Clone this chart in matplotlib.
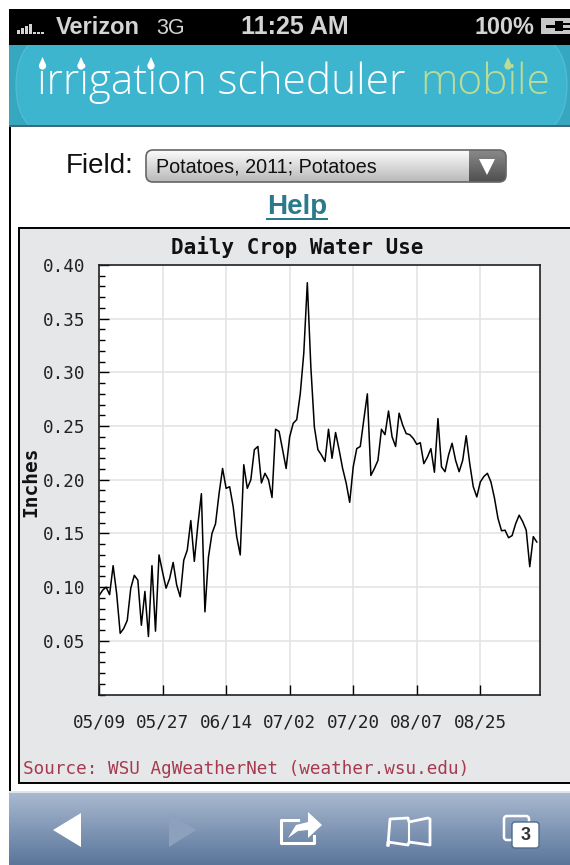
import numpy as np
import matplotlib
matplotlib.use("Agg")
import matplotlib.pyplot as plt
from matplotlib.colors import LinearSegmentedColormap
from matplotlib.patches import Rectangle, FancyBboxPatch, Polygon, Circle
from matplotlib.ticker import MultipleLocator

# Daily crop water use, inches, one value per day from 05/09
water_use = [
    0.092, 0.097, 0.100, 0.093, 0.120, 0.094, 0.057, 0.0615, 0.069, 0.099,
    0.111, 0.1065, 0.0645, 0.096, 0.054, 0.120, 0.059, 0.130, 0.114, 0.099,
    0.108, 0.123, 0.102, 0.091, 0.125, 0.1345, 0.162, 0.124, 0.158, 0.187,
    0.077, 0.128, 0.150, 0.159, 0.187, 0.2105, 0.192, 0.1935, 0.175, 0.147,
    0.130, 0.214, 0.192, 0.200, 0.228, 0.231, 0.197, 0.206, 0.200, 0.1835,
    0.247, 0.245, 0.228, 0.2105, 0.240, 0.2525, 0.256, 0.280, 0.318, 0.3835,
    0.305, 0.249, 0.228, 0.223, 0.217, 0.247, 0.220, 0.244, 0.228, 0.2105,
    0.197, 0.179, 0.212, 0.229, 0.231, 0.256, 0.280, 0.204, 0.2105, 0.218,
    0.247, 0.242, 0.264, 0.240, 0.231, 0.262, 0.251, 0.243, 0.242, 0.2385,
    0.233, 0.2345, 0.215, 0.221, 0.229, 0.207, 0.257, 0.212, 0.2075, 0.223,
    0.234, 0.218, 0.2075, 0.218, 0.241, 0.215, 0.1935, 0.184, 0.198, 0.203,
    0.206, 0.198, 0.183, 0.164, 0.1525, 0.153, 0.146, 0.148, 0.159, 0.167,
    0.161, 0.153, 0.119, 0.147, 0.142,
]
date_labels = ["05/09", "05/27", "06/14", "07/02", "07/20", "08/07", "08/25"]
date_days = [0, 18, 36, 54, 72, 90, 108]
y_labels = ["0.05", "0.10", "0.15", "0.20", "0.25", "0.30", "0.35", "0.40"]
y_values = [0.05, 0.10, 0.15, 0.20, 0.25, 0.30, 0.35, 0.40]

W, H = 570, 865
fig = plt.figure(figsize=(W / 100, H / 100), dpi=100, facecolor="white")

# screen chrome, drawn in pixel coordinates
bg = fig.add_axes([0, 0, 1, 1])
bg.axis("off")

sans = "Liberation Sans"
mono = "DejaVu Sans Mono"
grey = "#d4d4d4"


def rect(x0, y0, x1, y1, color, **kw):
    return bg.add_patch(Rectangle((x0, y0), x1 - x0, y1 - y0, facecolor=color, edgecolor="none", **kw))


def gradient(x0, y0, x1, y1, top, bottom, clip=None, zorder=1):
    cmap = LinearSegmentedColormap.from_list("g", [top, bottom])
    im = bg.imshow(np.linspace(0, 1, 64).reshape(-1, 1), extent=(x0, x1, y1, y0), cmap=cmap,
                   aspect="auto", zorder=zorder)
    if clip is not None:
        im.set_clip_path(clip)


# status bar
rect(9, 9, W, 45, "black")
for bx, bh in zip([17, 21, 25, 29, 33, 37, 41], [4, 6, 8, 10, 2, 2, 2]):
    rect(bx, 34 - bh, bx + 3, 34, grey)
bg.text(56, 27, "Verizon", color=grey, fontsize=17, family=sans, fontweight="bold", va="center")
bg.text(156, 28, "3G", color=grey, fontsize=15.5, family=sans, va="center")
bg.text(241, 27, "11:25 AM", color=grey, fontsize=18, family=sans, fontweight="bold", va="center")
bg.text(474, 27, "100%", color=grey, fontsize=16.8, family=sans, fontweight="bold", va="center")
rect(541, 18, W, 34, "#c8c8c8")
rect(546, 24.5, 555, 28, "black")
rect(555, 21, 563, 31, "black")
rect(563, 22.5, W, 25, "black")
rect(563, 27.5, W, 30, "black")

# banner
band = rect(9, 45, W, 126, "#37a7bf")
oval = FancyBboxPatch((16, 30), 551, 110, boxstyle="round,pad=0,rounding_size=55",
                      facecolor="#3db5cf", edgecolor="#55bed5", lw=0.8, zorder=1)
bg.add_patch(oval)
oval.set_clip_path(band)
rect(9, 124.5, W, 126.5, "#3e6a78", zorder=1.5)
bg.text(37, 83, "irrigation scheduler", color="white", fontsize=30.5, family="Open Sans",
        fontweight="light", va="center", zorder=2)
bg.text(420, 83, "mobile", color="#bcdc96", fontsize=30.5, family="Open Sans", fontweight="light",
        va="center", zorder=2)
for dx, dc in zip([42.5, 81, 151, 508], ["white", "white", "white", "#bcdc96"]):
    bg.add_patch(Polygon([[dx - 3.5, 65], [dx, 57], [dx + 3.5, 65]], facecolor=dc, zorder=3))
    bg.add_patch(Circle((dx, 66), 3.6, facecolor=dc, zorder=3))

# page
rect(9, 126.5, W, 793, "white", zorder=0.5)
rect(9, 126.5, 11, 792, "black", zorder=1)
bg.text(66, 166, "Field:", fontsize=20, family=sans, va="center", color="#111111", zorder=2)
sel = FancyBboxPatch((146, 150), 360, 32, boxstyle="round,pad=0,rounding_size=7",
                     facecolor="none", edgecolor="#666666", lw=1.2, zorder=3)
bg.add_patch(sel)
gradient(146, 150, 506, 182, "#fbfbfb", "#b9b9b9", clip=sel, zorder=2)
gradient(469, 150, 506, 182, "#8a8a8a", "#4f4f4f", clip=sel, zorder=2.5)
bg.add_patch(Polygon([[479, 159], [495, 159], [487, 175]], facecolor="white", edgecolor="none", zorder=4))
bg.text(156, 167, "Potatoes, 2011; Potatoes", fontsize=14.2, family=sans, va="center", color="#111111", zorder=4)
bg.text(297, 207, "Help", fontsize=20, family=sans, fontweight="bold", ha="center",
        va="center", color="#2b7a8c", zorder=2)
rect(266, 217.5, 328, 219.5, "#2b7a8c", zorder=2)

# chart panel
bg.add_patch(Rectangle((18.5, 227.5), 600, 555, facecolor="#e6e7e9", edgecolor="black", lw=1.4, zorder=1))
bg.text(297, 247, "Daily Crop Water Use", fontsize=15, family=mono, fontweight="bold",
        ha="center", va="center", color="#111111", zorder=2)
bg.text(31, 482, "Inches", fontsize=14, family=mono, fontweight="bold", rotation=90,
        ha="center", va="center", color="#111111", zorder=2)
bg.text(23, 769, "Source: WSU AgWeatherNet (weather.wsu.edu)", fontsize=12.7, family=mono,
        va="center", color="#a83a50", zorder=2)

# toolbar
gradient(9, 792, W, H, "#a9b9d0", "#5b769b")
rect(9, 790.5, W, 792.5, "#dfe4ea", zorder=2)
bg.add_patch(Polygon([[53, 830], [81, 813], [81, 847]], facecolor="white", zorder=3))
bg.add_patch(Polygon([[169, 813], [196, 830], [169, 847]], facecolor="#8ea1bc", zorder=3))
bg.plot([298, 281, 281, 314, 314], [820, 820, 843, 843, 836], color="white", lw=2.2, zorder=3)
bg.add_patch(Polygon([[288, 838], [296, 825], [308, 822], [308, 812], [322, 825], [308, 838], [308, 830], [298, 831]],
                     facecolor="white", zorder=3))
bg.plot([388, 390, 408, 409, 428, 430, 430, 409, 408, 388, 388],
        [845, 819, 818, 822, 818, 819, 845, 842, 845, 842, 845], color="white", lw=2, zorder=3)
bg.plot([409, 409], [822, 842], color="white", lw=1.5, zorder=3)
bg.add_patch(FancyBboxPatch((504, 816), 25, 24, boxstyle="round,pad=0,rounding_size=3",
                            facecolor="none", edgecolor="white", lw=1.8, zorder=3))
bg.add_patch(FancyBboxPatch((512, 822), 27, 26, boxstyle="round,pad=0,rounding_size=3",
                            facecolor="white", edgecolor="#4f6a8e", lw=1, zorder=4))
bg.text(525.5, 836, "3", fontsize=13, family=sans, fontweight="bold", ha="center", va="center",
        color="#333333", zorder=5)

bg.set_xlim(0, W)
bg.set_ylim(H, 0)

# the chart itself
ax = fig.add_axes([99 / W, 1 - 694.5 / H, 441 / W, 429.5 / H])
days = np.arange(len(water_use))
ax.plot(days, water_use, color="black", lw=1.1)
ax.set_xlim(0, 124.9)
ax.set_ylim(0, 0.40)
ax.set_xticks(date_days)
ax.set_xticklabels(date_labels, family=mono, fontsize=12.7, color="#222222")
ax.set_yticks(y_values)
ax.set_yticklabels(y_labels, family=mono, fontsize=12.7, color="#222222")
ax.yaxis.set_minor_locator(MultipleLocator(0.01))
ax.tick_params(axis="x", direction="in", length=7, width=1, pad=14)
ax.tick_params(axis="y", which="major", direction="in", length=7, width=1, pad=10)
ax.tick_params(axis="y", which="minor", direction="in", length=4.5, width=1)
ax.grid(True, which="major", color="#e4e4e4", lw=1.2)
ax.set_axisbelow(True)
for s in ax.spines.values():
    s.set_linewidth(1.2)
    s.set_color("#222222")

fig.savefig("out.png", dpi=100)
